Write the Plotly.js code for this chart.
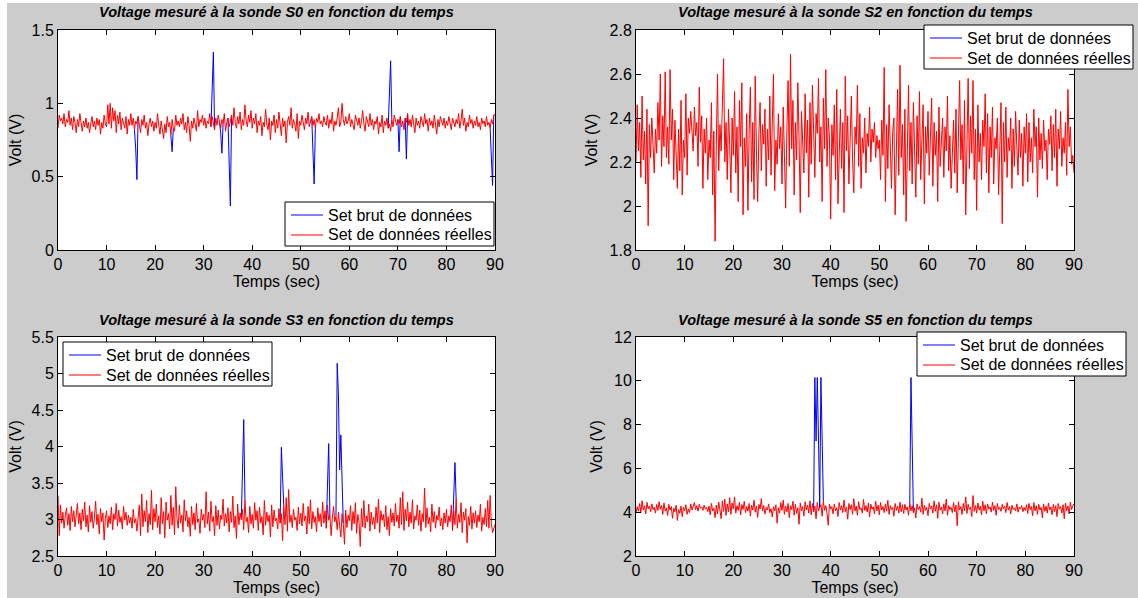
<!DOCTYPE html>
<html>
<head>
<meta charset="utf-8">
<script src="https://cdn.plot.ly/plotly-3.0.1.min.js"></script>
<style>
  html, body { margin: 0; padding: 0; background: #ffffff; }
  #chart { position: absolute; left: 7px; top: 3px; width: 1131px; height: 595px; }
</style>
</head>
<body>
<div id="chart"></div>
<script>
// ---------------- DATA ----------------
const sampleStep = 0.25; // seconds between samples
const legendNames = ["Set brut de données", "Set de données réelles"];
const plotTitles = [
  "Voltage mesuré à la sonde S0 en fonction du temps",
  "Voltage mesuré à la sonde S2 en fonction du temps",
  "Voltage mesuré à la sonde S3 en fonction du temps",
  "Voltage mesuré à la sonde S5 en fonction du temps"
];
const xTitle = "Temps (sec)";
const yTitle = "Volt (V)";

// Sonde S0 - données réelles
const s0Real = [
0.83,0.92,0.88,0.90,0.86,0.93,0.84,0.89,0.87,0.95,0.85,0.90,0.82,0.91,0.87,0.80,0.89,0.84,0.93,0.86,
0.81,0.88,0.84,0.90,0.83,0.87,0.80,0.86,0.91,0.84,0.88,0.82,0.90,0.85,0.89,0.79,0.87,0.83,0.92,0.86,
0.84,0.99,0.86,1.00,0.83,0.97,0.88,0.95,0.80,0.92,0.86,0.94,0.82,0.90,0.87,0.83,0.91,0.79,0.89,0.85,
0.93,0.85,0.90,0.82,0.88,0.86,0.91,0.84,0.80,0.89,0.85,0.92,0.83,0.87,0.78,0.86,0.90,0.84,0.88,0.81,
0.87,0.83,0.93,0.85,0.79,0.88,0.82,0.76,0.86,0.80,0.91,0.84,0.87,0.78,0.89,0.83,0.81,0.92,0.85,0.88,
0.84,0.90,0.86,0.93,0.82,0.87,0.80,0.91,0.85,0.74,0.88,0.83,0.90,0.86,0.81,0.95,0.84,0.89,0.87,0.92,
0.85,0.90,0.83,0.88,0.86,0.93,0.84,0.91,0.87,0.82,0.90,0.85,0.92,0.88,0.83,0.89,0.86,0.93,0.81,0.87,
0.90,0.84,0.88,0.92,0.85,0.97,0.87,0.83,0.91,0.86,0.94,0.82,0.89,0.85,0.99,0.88,0.84,0.92,0.87,0.95,
0.83,0.90,0.86,0.93,0.80,0.88,0.85,0.91,0.78,0.87,0.84,0.96,0.86,0.82,0.90,0.75,0.88,0.85,0.92,0.80,
0.89,0.83,0.94,0.86,0.78,0.90,0.84,0.88,0.73,0.87,0.91,0.85,0.97,0.83,0.89,0.86,0.81,0.93,0.76,0.88,
0.85,0.92,0.87,0.82,0.90,0.86,0.94,0.84,0.88,0.91,0.85,0.89,0.83,0.90,0.87,0.93,0.86,0.88,0.84,0.91,
0.87,0.85,0.92,0.83,0.89,0.86,0.94,0.81,0.88,0.85,0.90,0.97,0.84,0.87,1.00,0.89,0.85,0.91,0.86,0.88,
0.93,0.84,0.89,0.86,0.82,0.92,0.87,0.85,0.90,0.83,0.88,0.95,0.86,0.81,0.91,0.87,0.84,0.93,0.85,0.89,
0.82,0.88,0.86,0.91,0.79,0.87,0.84,0.92,0.80,0.88,0.85,0.90,0.83,0.86,0.81,0.89,0.84,0.92,0.87,0.85,
0.89,0.86,0.91,0.84,0.88,0.82,0.90,0.87,0.93,0.85,0.89,0.84,0.92,0.86,0.80,0.90,0.85,0.88,0.83,0.91,
0.87,0.84,0.93,0.86,0.89,0.81,0.90,0.85,0.88,0.83,0.92,0.86,0.79,0.89,0.84,0.91,0.87,0.85,0.90,0.83,
0.88,0.85,0.91,0.86,0.82,0.90,0.87,0.84,0.89,0.86,0.93,0.83,0.88,0.96,0.85,0.90,0.81,0.87,0.84,0.92,
0.86,0.89,0.83,0.88,0.85,0.91,0.84,0.87,0.82,0.90,0.86,0.88,0.84,0.91,0.85,0.87,0.83,0.89,0.86,0.92,
0.93];
// Sonde S0 - pics du set brut
const s0SpikeTimes  = [16.0, 16.25, 23.5, 31.75, 32.0, 33.5, 33.75, 35.25, 35.5, 52.5, 52.75, 68.25, 68.5, 70.25, 71.75, 89.25, 89.5];
const s0SpikeValues = [0.69, 0.48, 0.67, 1.14, 1.35, 0.80, 0.66, 0.58, 0.30, 0.65, 0.45, 1.07, 1.29, 0.67, 0.62, 0.64, 0.44];

// Sonde S2 - données réelles
const s2Real = [
2.20,2.46,2.25,2.38,2.13,2.50,2.21,2.34,2.10,2.44,1.91,2.37,2.22,2.40,2.28,2.15,2.35,2.24,2.47,2.30,
2.60,2.18,2.41,2.27,2.61,2.22,2.36,2.19,2.62,2.30,2.44,2.12,2.39,2.26,2.08,2.35,2.16,2.48,2.05,2.30,
2.22,2.51,2.14,2.40,2.33,2.43,2.36,2.25,2.45,2.32,2.38,2.18,2.54,2.29,2.41,2.08,2.35,2.24,2.40,2.12,
2.30,2.22,2.47,2.05,2.34,1.84,2.28,2.60,2.16,2.37,2.25,2.49,2.67,2.20,2.38,2.12,2.44,2.28,2.06,2.40,
2.23,2.52,2.15,2.36,2.02,2.48,2.27,2.56,1.96,2.31,2.18,2.42,1.98,2.34,2.54,2.11,2.38,2.03,2.59,2.25,
2.02,2.33,2.47,2.16,2.37,2.28,2.44,2.09,2.35,2.21,2.50,2.14,2.39,2.60,2.07,2.30,2.19,2.42,2.26,2.36,
2.10,2.45,2.23,1.99,2.34,2.57,2.18,2.69,2.26,2.48,2.05,2.38,2.21,2.56,2.31,1.97,2.43,2.28,2.15,2.51,
2.24,2.39,2.04,2.47,2.19,2.55,2.29,2.13,2.42,2.33,2.58,2.20,2.36,2.02,2.49,2.26,2.62,2.18,2.40,2.31,
1.94,2.37,2.23,2.46,2.12,2.53,2.01,2.30,2.44,2.17,2.38,1.97,2.59,2.25,2.41,2.10,2.34,2.50,2.21,2.06,
2.36,2.28,2.55,2.18,2.42,2.08,2.31,2.24,2.40,2.15,2.33,2.27,2.45,2.20,2.35,2.29,2.38,2.22,2.32,2.26,
2.30,2.12,2.39,2.23,2.63,2.02,2.37,2.17,2.46,2.27,2.08,2.34,2.40,1.96,2.28,2.53,2.14,2.64,2.22,2.37,
2.05,2.44,1.93,2.32,2.55,2.16,2.38,2.10,2.47,2.25,2.04,2.41,2.19,2.52,2.12,2.30,2.46,2.01,2.36,2.24,
2.43,2.14,2.31,2.49,2.09,2.38,2.23,2.34,2.02,2.45,2.18,2.29,2.40,2.13,2.36,2.25,2.50,2.16,2.32,2.08,
2.27,2.39,2.15,2.44,2.06,2.33,2.57,2.21,2.37,2.10,2.48,1.96,2.30,2.58,2.17,2.41,2.24,2.57,2.12,2.35,
1.98,2.46,2.20,2.33,2.12,2.39,2.27,2.51,2.15,2.42,2.06,2.36,2.22,2.45,2.10,2.31,2.26,2.40,2.05,2.34,
2.47,1.92,2.38,2.20,2.45,2.13,2.31,2.25,2.40,2.08,2.35,2.18,2.43,2.27,2.14,2.39,2.22,2.33,2.09,2.36,
2.24,2.42,2.11,2.38,2.20,2.31,2.15,2.44,2.27,2.36,2.04,2.40,2.21,2.33,2.17,2.39,2.25,2.30,2.12,2.35,
2.28,2.41,2.16,2.37,2.22,2.44,2.09,2.35,2.26,2.43,2.18,2.31,2.24,2.38,2.14,2.53,2.27,2.36,2.19,2.23,
2.15];
// Sonde S2 - aucun pic
const s2SpikeTimes  = [];
const s2SpikeValues = [];

// Sonde S3 - données réelles
const s3Real = [
3.33,2.78,3.20,2.95,3.10,2.88,3.05,3.16,2.92,3.08,2.85,3.18,2.97,3.12,2.90,3.04,3.22,2.94,3.09,2.86,
3.14,2.98,3.24,2.90,3.06,2.83,3.19,2.96,3.11,2.88,3.02,3.25,2.93,3.07,2.80,3.15,2.97,3.09,2.72,3.01,
3.12,2.89,3.05,2.94,3.17,2.86,3.08,3.00,3.22,2.91,3.13,2.96,3.04,2.87,3.18,2.99,3.10,2.92,3.06,2.95,
3.03,2.88,3.14,2.95,3.01,2.84,3.09,3.20,2.78,3.35,2.90,3.12,2.97,3.26,2.82,3.08,2.93,3.40,2.86,3.15,
2.97,3.21,2.89,3.05,2.80,3.30,2.94,3.11,2.75,3.24,2.99,3.08,2.87,3.33,2.92,3.17,2.79,3.45,3.02,2.88,
3.20,2.95,3.06,2.83,3.27,2.98,3.12,2.90,3.03,2.77,3.18,2.93,3.09,2.86,3.22,2.96,3.01,2.81,3.14,2.99,
3.07,2.89,3.38,2.94,3.10,2.84,3.25,2.97,3.04,2.78,3.19,2.92,3.13,2.87,3.06,3.00,3.28,2.91,3.08,2.95,
3.16,2.83,3.11,2.96,3.32,2.89,3.05,2.74,3.21,2.93,3.09,3.00,3.14,2.86,3.27,2.97,3.03,2.82,3.18,2.94,
3.07,2.88,3.23,2.99,3.12,2.85,3.17,2.95,3.04,2.79,3.26,2.92,3.10,2.97,3.06,2.76,3.20,2.90,3.13,2.98,
3.02,2.87,3.15,2.95,3.08,2.71,3.19,2.93,3.30,2.84,3.41,2.96,3.06,2.89,3.14,2.99,3.03,2.85,3.17,2.94,
3.09,2.91,3.22,2.98,3.05,2.80,3.18,2.94,3.27,2.87,3.11,2.96,3.04,2.83,3.16,2.97,3.08,2.90,3.24,2.95,
3.12,2.88,3.20,2.99,3.06,2.78,3.02,3.18,2.97,3.04,2.86,3.10,2.92,2.76,3.08,2.95,2.66,3.13,2.89,3.06,
2.98,3.19,2.85,3.11,2.94,3.23,2.81,3.07,2.96,2.63,3.15,2.90,3.26,2.88,3.05,2.97,3.21,2.84,3.10,2.93,
3.03,2.87,3.17,2.95,3.28,2.82,3.12,2.99,3.07,2.90,3.19,2.86,3.04,2.78,3.15,2.96,3.09,2.91,3.22,2.97,
3.06,2.88,3.30,2.93,3.38,2.85,3.14,2.98,3.24,2.90,3.10,2.95,3.27,2.87,3.05,2.99,3.20,2.92,3.13,2.84,
3.08,2.97,3.43,2.89,3.16,2.94,3.03,2.83,3.21,2.96,3.11,2.88,3.06,2.99,3.17,2.91,3.02,2.86,3.09,2.95,
3.14,2.90,3.05,2.97,3.20,2.85,3.12,2.93,3.28,2.88,3.07,2.96,3.23,2.82,3.10,2.99,3.15,2.68,3.04,2.92,
3.18,2.87,3.09,2.95,3.12,2.89,3.06,2.97,3.21,2.84,3.03,2.93,3.15,2.90,3.26,2.88,3.33,2.95,2.82,2.90,
2.93];
// Sonde S3 - pics du set brut
const s3SpikeTimes  = [38.0, 38.25, 46.0, 46.25, 55.5, 55.75, 57.5, 57.75, 58.0, 58.25, 58.5, 81.5, 81.75];
const s3SpikeValues = [3.64, 4.37, 3.99, 3.58, 3.63, 4.04, 5.14, 4.72, 3.68, 4.16, 3.60, 3.45, 3.78];

// Sonde S5 - données réelles
const s5Real = [
3.95,4.25,4.05,4.40,3.98,4.52,4.10,4.30,3.92,4.45,4.15,4.28,4.02,4.38,4.12,4.22,3.96,4.35,4.08,4.48,
4.14,4.30,3.90,4.42,4.05,4.20,3.85,4.36,4.10,4.26,3.72,4.18,4.02,4.32,3.62,4.12,3.95,4.28,3.80,4.22,
4.06,4.34,3.90,4.15,3.98,4.38,4.10,4.25,4.44,4.12,4.30,4.05,4.36,4.18,4.24,4.08,4.32,4.14,4.22,4.02,
4.28,3.88,4.40,4.05,4.18,3.75,4.33,3.92,4.46,4.10,3.70,4.52,4.04,4.60,3.85,4.38,4.02,4.66,3.90,4.42,
4.15,4.70,3.96,4.30,4.08,4.45,3.88,4.35,4.12,4.50,3.98,4.26,4.05,4.40,3.82,4.32,4.10,4.55,4.00,4.28,
3.76,4.36,4.14,4.62,4.05,4.30,3.92,4.22,4.10,4.38,3.98,4.16,3.78,4.25,4.06,4.34,3.50,4.20,3.96,4.44,
4.08,4.55,3.90,4.28,4.02,4.40,3.74,4.30,4.12,4.50,3.86,4.36,3.95,4.20,3.45,4.42,4.06,4.26,3.82,4.48,
4.10,4.32,3.96,4.52,3.88,4.40,4.02,4.28,3.70,4.45,4.05,4.22,4.34,3.82,4.50,4.08,4.30,3.95,3.40,4.36,
4.14,4.26,3.92,4.38,4.06,4.20,3.80,4.44,4.10,4.30,3.98,4.56,4.02,4.24,3.68,4.40,4.12,4.34,3.90,4.62,
4.05,4.28,3.86,4.48,4.12,4.20,3.96,4.58,4.08,4.30,4.00,4.42,3.78,4.36,4.14,4.24,3.92,4.50,4.06,4.32,
3.88,4.44,4.10,4.26,3.98,4.38,4.04,4.54,3.90,4.30,4.12,4.22,3.82,4.40,4.08,4.28,3.96,4.46,4.02,4.34,
3.94,4.36,4.10,4.24,3.86,4.42,4.06,4.30,3.98,4.20,3.74,4.38,4.12,4.26,4.00,4.64,3.90,4.32,4.08,4.22,
3.84,4.40,4.14,4.28,3.96,4.52,4.04,4.34,3.72,4.46,4.10,4.24,3.92,4.38,4.06,4.60,3.86,4.30,4.12,4.22,
3.98,4.44,4.02,4.32,3.38,4.48,4.10,4.26,3.90,4.40,4.06,4.70,3.94,4.36,4.12,4.24,3.80,4.76,4.04,4.30,
3.96,4.42,4.10,4.28,3.88,4.50,4.06,4.34,3.92,4.38,4.14,4.24,4.00,4.46,4.08,4.30,3.86,4.40,4.12,4.22,
4.04,4.36,4.16,4.28,3.98,4.44,4.10,4.26,3.92,4.32,4.12,4.20,4.06,4.38,4.00,4.24,4.14,4.30,4.02,4.22,
4.08,4.34,3.94,4.40,4.12,4.26,3.84,4.44,4.06,4.30,3.90,4.36,4.10,4.22,3.74,4.38,4.04,4.28,3.96,4.42,
4.10,4.24,3.88,4.36,4.02,4.30,3.80,4.40,4.14,4.26,3.96,4.34,3.70,4.42,4.06,4.28,3.92,4.46,4.12,4.30,
4.38];
// Sonde S5 - pics du set brut
const s5SpikeTimes  = [36.75, 37.0, 37.25, 37.5, 38.0, 38.25, 56.5, 56.75];
const s5SpikeValues = [10.15, 7.25, 10.15, 7.3, 10.15, 7.35, 10.15, 7.1];

// Axis settings (ranges / tick steps)
const xRange = [0, 90];
const xTickStep = 10;
const yRanges = [[0, 1.5], [1.8, 2.8], [2.5, 5.5], [2, 12]];
const yTickSteps = [0.5, 0.2, 0.5, 2];

// ---------------- BUILD ----------------
function timeAxis(values) { return values.map((_, i) => +(i * sampleStep).toFixed(2)); }
// Raw set = real set with the spike samples replaced; only the stretches
// that differ from the real set are kept visible (elsewhere the red covers it).
function buildRawVisible(real, spikeT, spikeV) {
  const raw = real.slice();
  const isSpike = new Array(real.length).fill(false);
  spikeT.forEach((t, k) => {
    const i = Math.round(t / sampleStep);
    raw[i] = spikeV[k];
    isSpike[i] = true;
  });
  return raw.map((v, i) =>
    (isSpike[i] || isSpike[i - 1] || isSpike[i + 1]) ? v : null);
}

const series = [
  { real: s0Real, st: s0SpikeTimes, sv: s0SpikeValues },
  { real: s2Real, st: s2SpikeTimes, sv: s2SpikeValues },
  { real: s3Real, st: s3SpikeTimes, sv: s3SpikeValues },
  { real: s5Real, st: s5SpikeTimes, sv: s5SpikeValues }
];

const FONT = "Liberation Sans, Arial, Helvetica, sans-serif";
const FS = 16;
const W = 1131, H = 595, OX = 7, OY = 3;
function px2x(p) { return (p - OX) / W; }
function px2y(p) { return 1 - (p - OY) / H; }

// plot boxes in page pixels [left, right, top, bottom]
const boxes = [
  [58, 495, 30, 250],
  [636, 1074, 30, 250],
  [58, 495, 337, 556],
  [636, 1074, 337, 556]
];
// legend boxes in page pixels [left, top]
const legendPos = [[285, 202], [924, 25], [63, 342], [917, 332]];
const legendW = 209, legendH = 44;
const titleY = [12, 12, 320, 320];
const seriesColors = ["#0000ff", "#ff0000"];

const traces = [];
const layout = {
  width: W, height: H,
  margin: { l: 0, r: 0, t: 0, b: 0 },
  paper_bgcolor: "#cccccc",
  plot_bgcolor: "#ffffff",
  font: { family: FONT, size: FS, color: "#000000" },
  showlegend: false,
  annotations: [],
  shapes: []
};

series.forEach((s, k) => {
  const n = k + 1;
  const xa = "x" + (n === 1 ? "" : n), ya = "y" + (n === 1 ? "" : n);
  const t = timeAxis(s.real);
  traces.push({
    x: t, y: buildRawVisible(s.real, s.st, s.sv), type: "scatter", mode: "lines",
    name: legendNames[0], line: { color: seriesColors[0], width: 1 },
    connectgaps: false, xaxis: xa, yaxis: ya, hoverinfo: "skip"
  });
  traces.push({
    x: t, y: s.real, type: "scatter", mode: "lines",
    name: legendNames[1], line: { color: seriesColors[1], width: 1 },
    xaxis: xa, yaxis: ya, hoverinfo: "skip"
  });
  const b = boxes[k];
  const axCommon = {
    showline: true, linecolor: "#000000", linewidth: 1, mirror: "ticks",
    ticks: "inside", ticklen: 5, tickcolor: "#000000", tickwidth: 1,
    showgrid: false, zeroline: false,
    tickfont: { family: FONT, size: FS, color: "#000000" }
  };
  layout["xaxis" + (n === 1 ? "" : n)] = Object.assign({}, axCommon, {
    domain: [px2x(b[0]), px2x(b[1])], anchor: ya,
    range: xRange, tick0: 0, dtick: xTickStep,
    title: { text: xTitle, font: { family: FONT, size: FS }, standoff: 2 }
  });
  layout["yaxis" + (n === 1 ? "" : n)] = Object.assign({}, axCommon, {
    domain: [px2y(b[3]), px2y(b[2])], anchor: xa,
    range: yRanges[k], tick0: yRanges[k][0], dtick: yTickSteps[k],
    title: { text: yTitle, font: { family: FONT, size: FS }, standoff: 7 }
  });

  // legend box (drawn in the MATLAB style)
  const L = legendPos[k][0], T = legendPos[k][1];
  layout.shapes.push({
    type: "rect", xref: "paper", yref: "paper",
    x0: px2x(L), x1: px2x(L + legendW), y0: px2y(T + legendH), y1: px2y(T),
    fillcolor: "#ffffff", line: { color: "#000000", width: 1 }, layer: "above"
  });
  legendNames.forEach((name, j) => {
    const rowY = T + 13 + 20 * j;
    layout.shapes.push({
      type: "line", xref: "paper", yref: "paper",
      x0: px2x(L + 6), x1: px2x(L + 38), y0: px2y(rowY), y1: px2y(rowY),
      line: { color: seriesColors[j], width: 1 }, layer: "above"
    });
    layout.annotations.push({
      text: name, xref: "paper", yref: "paper",
      x: px2x(L + 41), y: px2y(rowY), xanchor: "left", yanchor: "middle",
      showarrow: false, font: { family: FONT, size: FS, color: "#000000" }
    });
  });

  layout.annotations.push({
    text: "<b><i>" + plotTitles[k] + "</i></b>",
    xref: "paper", yref: "paper",
    x: px2x((b[0] + b[1]) / 2), y: px2y(titleY[k]),
    xanchor: "center", yanchor: "middle", showarrow: false,
    font: { family: FONT, size: 14.5, color: "#000000" }
  });
});

Plotly.newPlot("chart", traces, layout, { displayModeBar: false, staticPlot: true });
</script>
</body>
</html>
